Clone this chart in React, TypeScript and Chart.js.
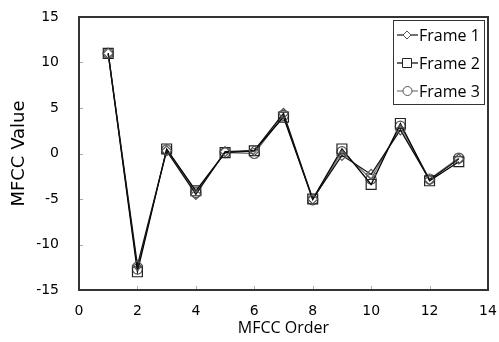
import React, { useEffect, useRef } from "react";
import { Chart, registerables } from "chart.js";

Chart.register(...registerables);

const orders = [1, 2, 3, 4, 5, 6, 7, 8, 9, 10, 11, 12, 13];
const frame1 = [11.0, -12.3, 0.3, -4.5, 0.2, 0.3, 4.4, -5.0, -0.2, -2.3, 2.6, -2.9, -0.6];
const frame2 = [11.0, -13.0, 0.5, -4.1, 0.1, 0.3, 4.0, -5.0, 0.5, -3.4, 3.3, -3.0, -0.9];
const frame3 = [11.0, -12.7, 0.4, -4.3, 0.1, 0.0, 4.2, -5.1, 0.2, -2.8, 3.0, -2.8, -0.5];
const seriesNames = ["Frame 1", "Frame 2", "Frame 3"];
const xTitle = "MFCC Order";
const yTitle = "MFCC Value";

const seriesStyles = [
  { line: "#111111", point: "#555555", style: "rectRot", radius: 5 },
  { line: "#000000", point: "#222222", style: "rect", radius: 7 },
  { line: "#777777", point: "#555555", style: "circle", radius: 5 },
];

const framePlugin = {
  id: "frameTicks",
  beforeDatasetsDraw(chart: any) {
    const { ctx, chartArea, scales } = chart;
    ctx.save();
    ctx.strokeStyle = "#aaaaaa";
    ctx.lineWidth = 1;
    const xs = scales.x;
    for (let v = 2; v < 14; v += 2) {
      const px = Math.round(xs.getPixelForValue(v)) + 0.5;
      ctx.beginPath();
      ctx.moveTo(px, chartArea.bottom);
      ctx.lineTo(px, chartArea.bottom - 4);
      ctx.stroke();
    }
    const ys = scales.y;
    for (let v = -10; v < 15; v += 5) {
      const py = Math.round(ys.getPixelForValue(v)) + 0.5;
      ctx.beginPath();
      ctx.moveTo(chartArea.left, py);
      ctx.lineTo(chartArea.left + 4, py);
      ctx.stroke();
    }
    ctx.strokeStyle = "#333333";
    ctx.lineWidth = 2;
    ctx.strokeRect(chartArea.left, chartArea.top, chartArea.right - chartArea.left, chartArea.bottom - chartArea.top);
    ctx.restore();
  },
  afterDatasetsDraw(chart: any) {
    const { ctx } = chart;
    ctx.save();
    const bx = 393, by = 20, bw = 91, bh = 84;
    ctx.fillStyle = "#ffffff";
    ctx.fillRect(bx, by, bw, bh);
    ctx.strokeStyle = "#333333";
    ctx.lineWidth = 1;
    ctx.strokeRect(bx + 0.5, by + 0.5, bw, bh);
    ctx.font = "16px 'Open Sans'";
    ctx.textBaseline = "middle";
    ctx.textAlign = "left";
    seriesNames.forEach((name, i) => {
      const cy = 35 + i * 28;
      const s = seriesStyles[i];
      ctx.strokeStyle = s.line;
      ctx.lineWidth = 1.2;
      ctx.beginPath();
      ctx.moveTo(397, cy);
      ctx.lineTo(418, cy);
      ctx.stroke();
      ctx.fillStyle = "#ffffff";
      ctx.strokeStyle = s.point;
      ctx.lineWidth = 1;
      ctx.beginPath();
      if (s.style === "rectRot") {
        ctx.moveTo(407, cy - 4);
        ctx.lineTo(411, cy);
        ctx.lineTo(407, cy + 4);
        ctx.lineTo(403, cy);
        ctx.closePath();
      } else if (s.style === "rect") {
        ctx.rect(402.5, cy - 4.5, 9, 9);
      } else {
        ctx.arc(407.5, cy, 4.5, 0, Math.PI * 2);
      }
      ctx.fill();
      ctx.stroke();
      ctx.fillStyle = "#000000";
      ctx.fillText(name, 419, cy + 1);
    });
    ctx.restore();
  },
};

export default function App() {
  const ref = useRef<HTMLCanvasElement>(null);
  useEffect(() => {
    const canvas = ref.current;
    if (!canvas) return;
    const all = [frame1, frame2, frame3];
    const chart = new Chart(canvas, {
      type: "line",
      data: {
        datasets: all.map((vals, i) => ({
          label: seriesNames[i],
          data: orders.map((o, j) => ({ x: o, y: vals[j] })),
          borderColor: seriesStyles[i].line,
          borderWidth: 1.3,
          pointStyle: seriesStyles[i].style as any,
          pointRadius: seriesStyles[i].radius,
          pointBorderColor: seriesStyles[i].point,
          pointBorderWidth: 1.2,
          pointBackgroundColor: "rgba(255,255,255,0)",
          tension: 0,
          fill: false,
        })),
      },
      options: {
        animation: false,
        responsive: false,
        maintainAspectRatio: false,
        layout: { padding: { left: 0, right: 11, top: 17, bottom: 0 } },
        plugins: { legend: { display: false }, tooltip: { enabled: false } },
        scales: {
          x: {
            type: "linear",
            min: 0,
            max: 14,
            grid: { display: false, drawTicks: false },
            border: { display: false },
            ticks: {
              stepSize: 2,
              color: "#000000",
              padding: 13,
              maxRotation: 0,
              font: { family: "'DejaVu Sans'", size: 14 },
            },
            title: {
              display: true,
              text: xTitle,
              color: "#000000",
              font: { family: "'Open Sans'", size: 16 },
              padding: { top: 0, bottom: 4 },
            },
            afterFit(scale: any) {
              scale.height = 52;
              scale.paddingLeft = 0;
              scale.paddingRight = 0;
            },
          },
          y: {
            type: "linear",
            min: -15,
            max: 15,
            grid: { display: false, drawTicks: false },
            border: { display: false },
            ticks: {
              stepSize: 5,
              color: "#000000",
              padding: 20,
              font: { family: "'DejaVu Sans'", size: 14 },
            },
            title: {
              display: true,
              text: yTitle,
              color: "#000000",
              font: { family: "'DejaVu Sans'", size: 18 },
              padding: { top: 9, bottom: 0 },
            },
            afterFit(scale: any) {
              scale.width = 79;
              scale.paddingTop = 0;
              scale.paddingBottom = 0;
            },
          },
        },
      },
      plugins: [framePlugin],
    });
    return () => chart.destroy();
  }, []);
  return (
    <div style={{ position: "fixed", left: 0, top: 0, width: 499, height: 342, background: "#ffffff" }}>
      <canvas ref={ref} width={499} height={342} style={{ width: 499, height: 342 }} />
    </div>
  );
}
